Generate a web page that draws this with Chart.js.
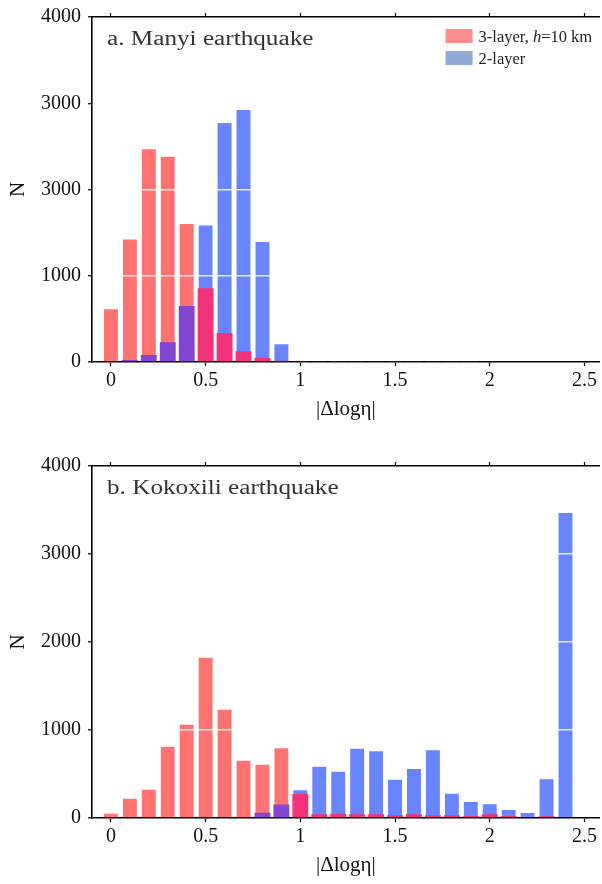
<!DOCTYPE html>
<html>
<head>
<meta charset="utf-8">
<script src="https://cdn.jsdelivr.net/npm/chart.js@4.4.1/dist/chart.umd.min.js"></script>
<style>
    body { margin: 0; background: #fff; }
    .panel { position: absolute; left: 0; width: 602px; }
    #panelA { top: 0; height: 430px; }
    #panelB { top: 430px; height: 454px; }
</style>
</head>
<body>
<div class="panel" id="panelA"><canvas id="chartA"></canvas></div>
<div class="panel" id="panelB"><canvas id="chartB"></canvas></div>
<script>
// 分箱中心 |Δlogη|
const bins = [0, 0.1, 0.2, 0.3, 0.4, 0.5, 0.6, 0.7, 0.8, 0.9, 1.0, 1.1, 1.2,
              1.3, 1.4, 1.5, 1.6, 1.7, 1.8, 1.9, 2.0, 2.1, 2.2, 2.3, 2.4, 2.5];

// a. Manyi
const manyi3Layer = [624, 1433, 2479, 2392, 1612, 855, 335, 125, 46, 15, 18, 0, 0,
                     0, 0, 0, 0, 0, 0, 0, 0, 0, 0, 0, 0, 0];
const manyi2Layer = [12, 23, 80, 228, 650, 1593, 2783, 2932, 1403, 217, 5, 4, 4,
                     4, 4, 4, 4, 4, 4, 4, 0, 0, 0, 0, 0, 0];

// b. Kokoxili
const kokoxili3Layer = [61, 231, 333, 822, 1072, 1833, 1242, 663, 617, 803, 272, 42, 49,
                        42, 42, 30, 42, 30, 30, 23, 42, 23, 8, 19, 8, 0];
const kokoxili2Layer = [5, 0, 0, 0, 0, 0, 0, 0, 61, 152, 326, 595, 538,
                        799, 769, 447, 568, 780, 288, 193, 167, 102, 68, 451, 3477, 0];

// 刻度
const xTicks = [0, 0.5, 1, 1.5, 2, 2.5];
const yTicks = [0, 1000, 2000, 3000, 4000];
const yLabelsA = ['0', '1000', '3000', '3000', '4000'];
const yLabelsB = ['0', '1000', '2000', '3000', '4000'];

// 圖例
const legendItems = [
    { parts: [['3-layer, ', false], ['h', true], ['=10 km', false]], color: '#FF8C8C' },
    { parts: [['2-layer', false]], color: '#8FAAD4' }
];

const RED = '#FF7272';
const BLUE = '#6884FF';
const PURPLE = '#8446D0';
const PINK = '#F2337A';
const FONT = "'Liberation Serif', 'Times New Roman', serif";

// 較高的柱在後面，較矮的柱疊在前面
function buildDatasets(red, blue) {
    const back = bins.map((x, i) => ({ x: x, y: Math.max(red[i], blue[i]) }));
    const front = bins.map((x, i) => ({ x: x, y: Math.min(red[i], blue[i]) }));
    return [
        {
            data: back,
            backgroundColor: bins.map((x, i) => red[i] >= blue[i] ? RED : BLUE),
            borderColor: 'rgba(255,255,255,0.3)',
            borderWidth: 1,
            order: 2
        },
        {
            data: front,
            backgroundColor: bins.map((x, i) => red[i] >= blue[i] ? PURPLE : PINK),
            order: 1
        }
    ];
}

// 面板標題與圖例
const panelPlugin = {
    id: 'panel',
    afterDraw(chart, args, opts) {
        const ctx = chart.ctx;
        const area = chart.chartArea;
        ctx.save();
        ctx.textBaseline = 'alphabetic';
        ctx.fillStyle = '#333';
        ctx.font = `20px ${FONT}`;
        // 原圖文字略為橫向拉寬
        ctx.save();
        ctx.translate(area.left + 15, area.top + 28);
        ctx.scale(1.26, 1);
        ctx.fillText(opts.text, 0, 0);
        ctx.restore();

        if (opts.legend) {
            legendItems.forEach((item, k) => {
                const top = area.top + 12 + k * 22;
                ctx.fillStyle = item.color;
                ctx.fillRect(area.right - 154, top, 27, 14);
                let x = area.right - 121;
                ctx.fillStyle = '#222';
                item.parts.forEach(([txt, italic]) => {
                    ctx.font = `${italic ? 'italic ' : ''}16.5px ${FONT}`;
                    ctx.fillText(txt, x, top + 13);
                    x += ctx.measureText(txt).width;
                });
            });
        }
        ctx.restore();
    }
};

function makeChart(id, red, blue, yLabels, opts) {
    const tickFont = { family: FONT, size: 20, lineHeight: 1 };
    const titleFont = { family: FONT, size: 21 };
    return new Chart(document.getElementById(id), {
        type: 'bar',
        data: { datasets: buildDatasets(red, blue) },
        plugins: [panelPlugin],
        options: {
            responsive: true,
            maintainAspectRatio: false,
            animation: false,
            layout: { padding: 0 },
            datasets: {
                bar: { grouped: false, barPercentage: 0.84, categoryPercentage: 1 }
            },
            plugins: {
                legend: { display: false },
                tooltip: { enabled: false },
                panel: { text: opts.text, legend: opts.legend }
            },
            scales: {
                x: {
                    type: 'linear',
                    position: 'bottom',
                    min: -0.1,
                    max: 2.58,
                    offset: false,
                    afterBuildTicks: s => { s.ticks = xTicks.map(v => ({ value: v })); },
                    afterFit: s => { s.height = opts.bottom; },
                    grid: { offset: false, drawOnChartArea: false, tickLength: 4, tickColor: '#000', tickWidth: 1.2 },
                    border: { color: '#000', width: 1.6 },
                    ticks: {
                        font: tickFont,
                        color: '#111',
                        padding: 5,
                        maxRotation: 0,
                        callback: v => String(v)
                    },
                    title: {
                        display: true,
                        text: '|Δlogη|',
                        font: titleFont,
                        color: '#111',
                        padding: { bottom: opts.titlePad }
                    }
                },
                x2: {
                    type: 'linear',
                    position: 'top',
                    min: -0.1,
                    max: 2.58,
                    offset: false,
                    afterBuildTicks: s => { s.ticks = xTicks.map(v => ({ value: v })); },
                    afterFit: s => { s.height = opts.top; },
                    grid: { offset: false, drawOnChartArea: false, tickLength: 4, tickColor: '#000', tickWidth: 1.2 },
                    border: { color: '#000', width: 1.6 },
                    ticks: { display: false }
                },
                y: {
                    min: 0,
                    max: 4000,
                    afterBuildTicks: s => { s.ticks = yTicks.map(v => ({ value: v })); },
                    afterFit: s => { s.width = 92; },
                    grid: {
                        z: 1,
                        color: c => (c.tick && c.tick.value > 0 && c.tick.value < 4000) ? 'rgba(255,255,255,0.85)' : 'rgba(0,0,0,0)',
                        lineWidth: 1.5,
                        tickLength: 4,
                        tickColor: '#000',
                        tickWidth: 1.2
                    },
                    border: { color: '#000', width: 1.6, z: 1 },
                    ticks: {
                        font: tickFont,
                        color: '#111',
                        padding: 7,
                        callback: (v, i) => yLabels[i]
                    },
                    title: {
                        display: true,
                        text: 'N',
                        font: titleFont,
                        color: '#111',
                        padding: { top: 6 }
                    }
                }
            }
        }
    });
}

makeChart('chartA', manyi3Layer, manyi2Layer, yLabelsA,
    { text: 'a. Manyi earthquake', legend: true, top: 10, bottom: 68, titlePad: 8 });
makeChart('chartB', kokoxili3Layer, kokoxili2Layer, yLabelsB,
    { text: 'b. Kokoxili earthquake', legend: false, top: 36, bottom: 66, titlePad: 6 });
</script>
</body>
</html>
